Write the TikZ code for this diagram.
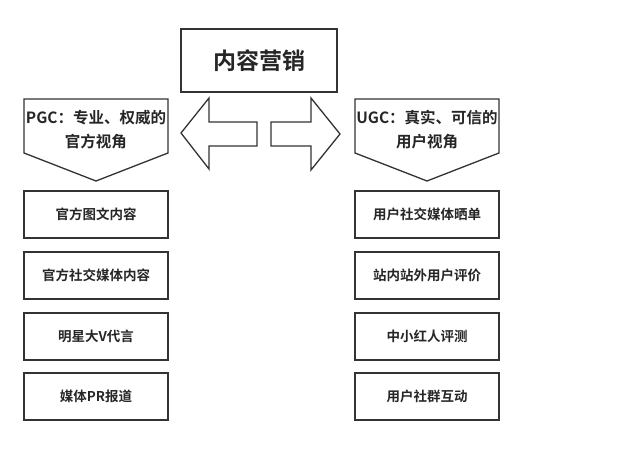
\documentclass[tikz,border=0pt]{standalone}
\usepackage{fontspec}
\newfontfamily\cjk{Noto Sans CJK SC Bold}
\begin{document}
\begin{tikzpicture}[x=1pt,y=-1pt,
  ln/.style={draw=black!80,line width=1.3pt,line join=miter},
  itembox/.style={ln,minimum width=144pt,minimum height=47pt,inner sep=0pt,font=\cjk\fontsize{13.5}{16}\selectfont,text=black!85},
  lbl/.style={font=\cjk\fontsize{15.5}{24}\selectfont,text=black!85,align=center}]
\useasboundingbox (0,0) rectangle (640,449);
\fill[white] (0,0) rectangle (640,449);
% title
\node[ln,minimum width=156pt,minimum height=63pt,inner sep=0pt,font=\cjk\fontsize{23}{28}\selectfont,text=black!85] (title) at (259,60.5) {内容营销};
% pentagons
\draw[ln] (24,99) -- (168,99) -- (168,153) -- (96,181) -- (24,153) -- cycle;
\node[lbl] (pgc) at (96,130) {PGC：专业、权威的\\官方视角};
\draw[ln] (355,99) -- (499,99) -- (499,153) -- (427,181) -- (355,153) -- cycle;
\node[lbl] (ugc) at (427,130) {UGC：真实、可信的\\用户视角};
% arrows
\draw[ln] (181,133) -- (209,98) -- (209,122) -- (257,122) -- (257,146) -- (209,146) -- (209,169) -- cycle;
\draw[ln] (340,134) -- (311,98) -- (311,122) -- (271,122) -- (271,146) -- (311,146) -- (311,170) -- cycle;
% left items
\node[itembox] (l1) at (96,214.5) {官方图文内容};
\node[itembox] (l2) at (96,275.5) {官方社交媒体内容};
\node[itembox] (l3) at (96,336.5) {明星大V代言};
\node[itembox] (l4) at (96,396.5) {媒体PR报道};
% right items
\node[itembox] (r1) at (427,214.5) {用户社交媒体晒单};
\node[itembox] (r2) at (427,275.5) {站内站外用户评价};
\node[itembox] (r3) at (427,336.5) {中小红人评测};
\node[itembox] (r4) at (427,396.5) {用户社群互动};
\end{tikzpicture}
\end{document}
